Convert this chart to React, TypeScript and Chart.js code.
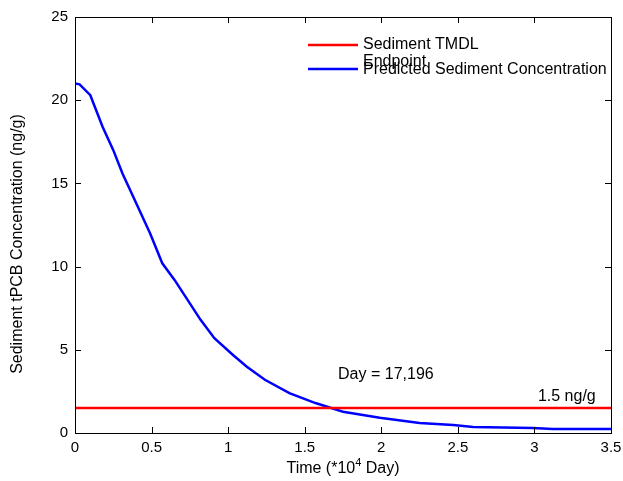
import React, { useEffect, useRef } from "react";
import { Chart, registerables } from "chart.js";

Chart.register(...registerables);

// Time in units of 10^4 days
const timeX = [0, 0.03, 0.1, 0.18, 0.25, 0.31, 0.39, 0.49, 0.57, 0.65, 0.82, 0.91, 1.03, 1.12, 1.24, 1.4, 1.57, 1.75, 1.99, 2.25, 2.47, 2.6, 2.99, 3.12, 3.5];
const predictedConc = [21.0, 20.95, 20.3, 18.4, 17.0, 15.6, 14.0, 12.0, 10.2, 9.2, 6.8, 5.7, 4.7, 4.0, 3.2, 2.4, 1.8, 1.28, 0.92, 0.6, 0.48, 0.36, 0.3, 0.24, 0.24];
const tmdlX = [0, 3.5];
const tmdlY = [1.5, 1.5];

const xTicks = [0, 0.5, 1, 1.5, 2, 2.5, 3, 3.5];
const xTickLabels = ["0", "0.5", "1", "1.5", "2", "2.5", "3", "3.5"];
const yTicks = [0, 5, 10, 15, 20, 25];
const yTickLabels = ["0", "5", "10", "15", "20", "25"];

const legendLabels = ["Sediment TMDL", "Endpoint", "Predicted Sediment Concentration"];
const crossingLabel = "Day = 17,196";
const crossingLabelPos = { x: 2.03, y: 3.5 };
const tmdlLabel = "1.5 ng/g";
const tmdlLabelPos = { x: 3.42, y: 2.25 };
const xTitle = "Time (*10";
const xTitleSup = "4";
const xTitleEnd = " Day)";
const yTitle = "Sediment tPCB Concentration (ng/g)";

const FONT = "'Liberation Sans', Arial, Helvetica, sans-serif";

const overlayPlugin = {
  id: "overlay",
  afterDraw(chart: any) {
    const ctx = chart.ctx as CanvasRenderingContext2D;
    const a = chart.chartArea;
    const xs = chart.scales.x;
    const ys = chart.scales.y;
    ctx.save();
    // box
    ctx.strokeStyle = "#000";
    ctx.lineWidth = 1;
    ctx.strokeRect(Math.round(a.left) + 0.5, Math.round(a.top) + 0.5, Math.round(a.right - a.left), Math.round(a.bottom - a.top));
    // inward ticks on all sides
    const tl = 6;
    ctx.beginPath();
    xTicks.forEach((v) => {
      const px = Math.round(xs.getPixelForValue(v)) + 0.5;
      ctx.moveTo(px, a.bottom);
      ctx.lineTo(px, a.bottom - tl);
      ctx.moveTo(px, a.top);
      ctx.lineTo(px, a.top + tl);
    });
    yTicks.forEach((v) => {
      const py = Math.round(ys.getPixelForValue(v)) + 0.5;
      ctx.moveTo(a.left, py);
      ctx.lineTo(a.left + tl, py);
      ctx.moveTo(a.right, py);
      ctx.lineTo(a.right - tl, py);
    });
    ctx.stroke();

    ctx.fillStyle = "#000";
    // legend
    const lx0 = 308, lx1 = 358, tx = 363;
    ctx.lineWidth = 2.5;
    ctx.strokeStyle = "#ff0000";
    ctx.beginPath();
    ctx.moveTo(lx0, 45);
    ctx.lineTo(lx1, 45);
    ctx.stroke();
    ctx.strokeStyle = "#0000ff";
    ctx.beginPath();
    ctx.moveTo(lx0, 69);
    ctx.lineTo(lx1, 69);
    ctx.stroke();
    ctx.font = `16px ${FONT}`;
    ctx.textAlign = "left";
    ctx.textBaseline = "middle";
    ctx.fillText(legendLabels[0], tx, 45);
    ctx.fillText(legendLabels[1], tx, 62);
    ctx.fillText(legendLabels[2], tx, 70);

    // annotations
    ctx.textAlign = "center";
    ctx.font = `16px ${FONT}`;
    ctx.fillText(crossingLabel, xs.getPixelForValue(crossingLabelPos.x), ys.getPixelForValue(crossingLabelPos.y));
    ctx.textAlign = "right";
    ctx.fillText(tmdlLabel, xs.getPixelForValue(tmdlLabelPos.x) - 3, ys.getPixelForValue(tmdlLabelPos.y) + 1);

    // x title with superscript
    ctx.font = `16px ${FONT}`;
    ctx.textBaseline = "alphabetic";
    ctx.textAlign = "left";
    const w1 = ctx.measureText(xTitle).width;
    ctx.font = `11px ${FONT}`;
    const w2 = ctx.measureText(xTitleSup).width;
    ctx.font = `16px ${FONT}`;
    const w3 = ctx.measureText(xTitleEnd).width;
    const cx = (a.left + a.right) / 2;
    let sx = cx - (w1 + w2 + w3) / 2;
    const base = 473;
    ctx.fillText(xTitle, sx, base);
    sx += w1;
    ctx.font = `11px ${FONT}`;
    ctx.fillText(xTitleSup, sx, base - 7);
    sx += w2;
    ctx.font = `16px ${FONT}`;
    ctx.fillText(xTitleEnd, sx, base);

    // y title
    ctx.save();
    ctx.translate(18, 244);
    ctx.rotate(-Math.PI / 2);
    ctx.textAlign = "center";
    ctx.textBaseline = "middle";
    ctx.fillText(yTitle, 0, 0);
    ctx.restore();

    ctx.restore();
  },
};

export default function App() {
  const ref = useRef<HTMLCanvasElement | null>(null);
  useEffect(() => {
    if (!ref.current) return;
    Chart.defaults.color = "#000";
    const chart = new Chart(ref.current, {
      type: "line",
      data: {
        datasets: [
          {
            label: "Sediment TMDL Endpoint",
            data: tmdlX.map((x, i) => ({ x, y: tmdlY[i] })),
            borderColor: "#ff0000",
            borderWidth: 2.5,
            pointRadius: 0,
            tension: 0,
          },
          {
            label: "Predicted Sediment Concentration",
            data: timeX.map((x, i) => ({ x, y: predictedConc[i] })),
            borderColor: "#0000ff",
            borderWidth: 2.5,
            pointRadius: 0,
            tension: 0,
          },
        ],
      },
      options: {
        responsive: false,
        animation: false,
        layout: { padding: { top: 17, right: 12, left: 0, bottom: 0 } },
        plugins: { legend: { display: false }, tooltip: { enabled: false } },
        scales: {
          x: {
            type: "linear",
            min: 0,
            max: 3.5,
            afterFit: (s: any) => { s.height = 48; s.paddingLeft = 0; s.paddingRight = 0; },
            afterBuildTicks: (s: any) => { s.ticks = xTicks.map((v) => ({ value: v })); },
            grid: { display: false, drawTicks: false },
            border: { display: false },
            ticks: {
              padding: 6,
              font: { size: 15, family: FONT },
              color: "#000",
              maxRotation: 0,
              autoSkip: false,
              callback: (v: any) => { const i = xTicks.indexOf(Number(v)); return i >= 0 ? xTickLabels[i] : ""; },
            },
          },
          y: {
            type: "linear",
            min: 0,
            max: 25,
            afterFit: (s: any) => { s.width = 75; s.paddingTop = 0; s.paddingBottom = 0; },
            afterBuildTicks: (s: any) => { s.ticks = yTicks.map((v) => ({ value: v })); },
            grid: { display: false, drawTicks: false },
            border: { display: false },
            ticks: {
              padding: 7,
              font: { size: 15, family: FONT },
              color: "#000",
              autoSkip: false,
              callback: (v: any) => { const i = yTicks.indexOf(Number(v)); return i >= 0 ? yTickLabels[i] : ""; },
            },
          },
        },
      },
      plugins: [overlayPlugin],
    } as any);
    return () => chart.destroy();
  }, []);
  return (
    <div style={{ position: "absolute", left: 0, top: 0, width: 623, height: 481, background: "#fff" }}>
      <canvas ref={ref} width={623} height={481} style={{ width: 623, height: 481, display: "block" }} />
    </div>
  );
}
